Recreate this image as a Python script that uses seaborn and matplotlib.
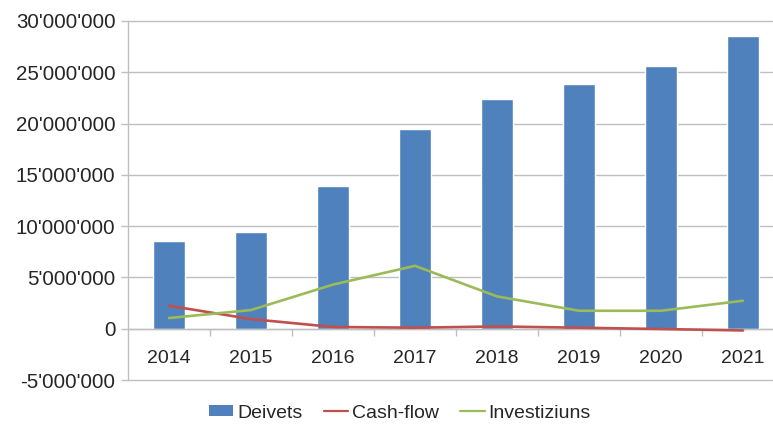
import numpy as np
import pandas as pd
import matplotlib
matplotlib.use("Agg")
import matplotlib.pyplot as plt
import seaborn as sns
from matplotlib.ticker import FuncFormatter, FixedLocator
from matplotlib.patches import Patch
from matplotlib.lines import Line2D

years = ["2014", "2015", "2016", "2017", "2018", "2019", "2020", "2021"]
deivets = [8.6e6, 9.45e6, 13.9e6, 19.45e6, 22.35e6, 23.9e6, 25.65e6, 28.55e6]
cashflow = [2.24e6, 0.94e6, 0.17e6, 0.1e6, 0.22e6, 0.1e6, -0.03e6, -0.17e6]
investiziuns = [1.04e6, 1.82e6, 4.3e6, 6.13e6, 3.15e6, 1.75e6, 1.75e6, 2.73e6]

BLUE = "#4F81BD"
RED = "#C0504D"
GREEN = "#9BBB59"
GRID = "#BFBFBF"
TEXT = "#262626"

sns.set_theme(style="white")
plt.rcParams["font.family"] = ["Liberation Sans", "DejaVu Sans"]

df = pd.DataFrame({"year": years, "Deivets": deivets,
                   "Cash-flow": cashflow, "Investiziuns": investiziuns})
df["pos"] = np.arange(len(years))

fig = plt.figure(figsize=(7.73, 4.26), dpi=100)
W, H = 773, 426
left, right, top, bottom = 128, 772, 21, 380
ax = fig.add_axes([left / W, 1 - bottom / H, (right - left) / W, (bottom - top) / H])

sns.barplot(data=df, x="year", y="Deivets", color=BLUE, width=0.39,
            saturation=1, ax=ax, zorder=2)
sns.lineplot(data=df, x="pos", y="Cash-flow", color=RED, linewidth=1.9,
             ax=ax, zorder=3)
sns.lineplot(data=df, x="pos", y="Investiziuns", color=GREEN, linewidth=1.9,
             ax=ax, zorder=3)

ax.set_ylim(-5e6, 30e6)
ax.set_xlim(-0.5, 7.5 - (784 - 772) / 82)
ax.set_yticks(np.arange(-5e6, 30e6 + 1, 5e6))
ax.yaxis.set_major_formatter(FuncFormatter(lambda v, p: f"{int(round(v)):,}".replace(",", "'")))
ax.grid(axis="y", color=GRID, linewidth=1.0, zorder=0)
ax.set_axisbelow(True)
for gl in ax.get_ygridlines():
    gl.set_clip_on(False)
ax.set_xlabel("")
ax.set_ylabel("")

for s in ["top", "right"]:
    ax.spines[s].set_visible(False)
ax.spines["left"].set_color(GRID)
ax.spines["left"].set_linewidth(1.0)
ax.spines["bottom"].set_position(("data", 0))
ax.spines["bottom"].set_color(GRID)
ax.spines["bottom"].set_linewidth(1.0)

ax.set_xticks(np.arange(len(years)))
ax.set_xticklabels(years)
ax.xaxis.set_minor_locator(FixedLocator(np.arange(0.5, len(years) - 1, 1)))
ax.tick_params(axis="x", which="major", length=0, pad=15, labelsize=14, labelcolor=TEXT)
ax.tick_params(axis="x", which="minor", length=5, width=1.0, color=GRID, direction="out", bottom=True)
ax.tick_params(axis="y", length=5, width=1.0, color=GRID, pad=4, labelsize=14.8, labelcolor=TEXT, left=True)

handles = [Patch(facecolor=BLUE, edgecolor="none"),
           Line2D([0], [0], color=RED, linewidth=1.6),
           Line2D([0], [0], color=GREEN, linewidth=1.6)]
fig.legend(handles, ["Deivets", "Cash-flow", "Investiziuns"], loc="center",
           bbox_to_anchor=(400 / W, 1 - 413 / H), ncol=3, frameon=False,
           fontsize=14, handlelength=1.25, handleheight=0.5, handletextpad=0.2,
           columnspacing=1.1, labelcolor=TEXT)

fig.savefig("out.png", dpi=100)
